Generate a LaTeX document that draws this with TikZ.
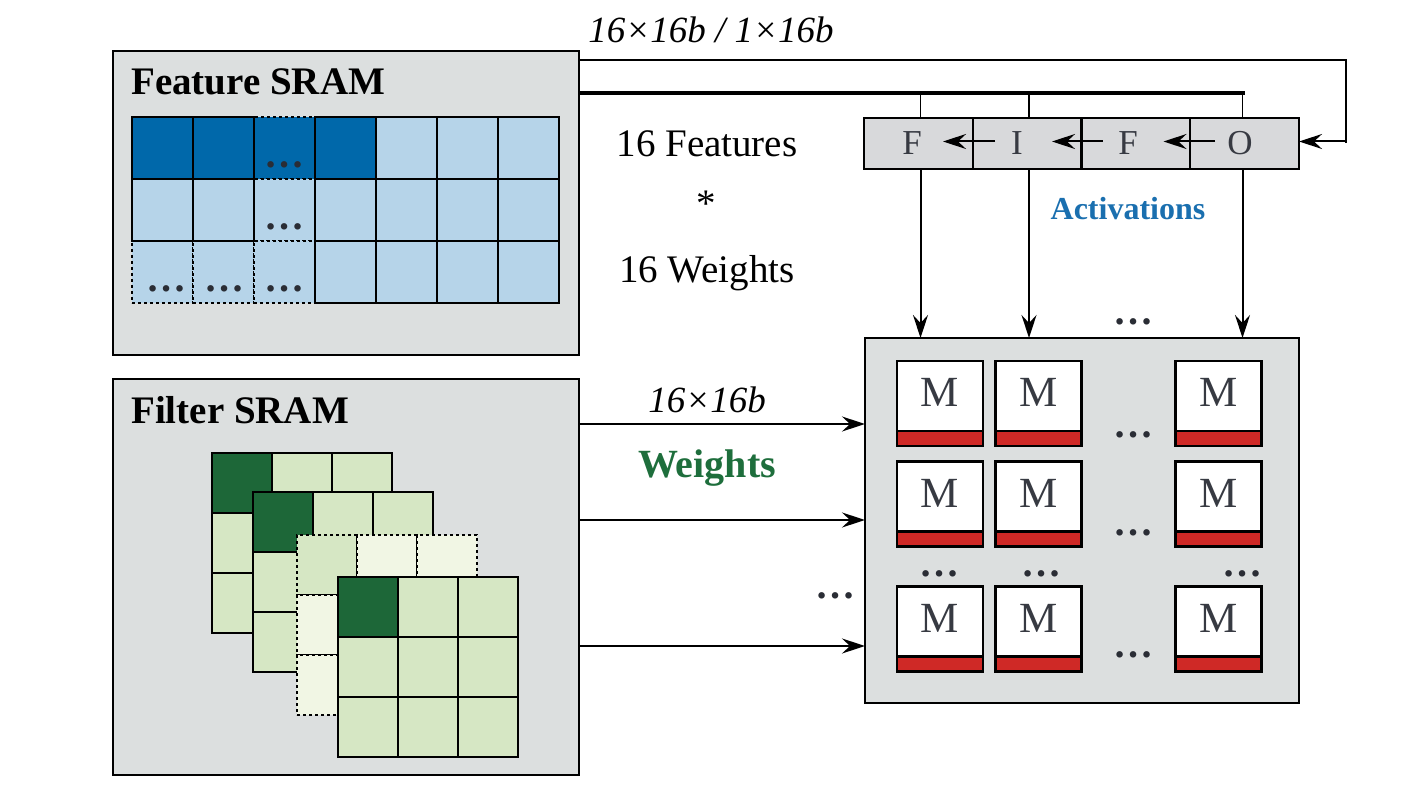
\documentclass[tikz,border=0pt]{standalone}
\usepackage{fontspec}
\setmainfont{Liberation Serif}
\usetikzlibrary{arrows.meta,calc}
\definecolor{boxgrey}{RGB}{220,223,223}
\definecolor{fifogrey}{RGB}{216,217,219}
\definecolor{fdark}{RGB}{0,104,170}
\definecolor{flight}{RGB}{182,212,233}
\definecolor{gdark}{RGB}{29,103,56}
\definecolor{glight}{RGB}{214,231,196}
\definecolor{gpale}{RGB}{241,246,228}
\definecolor{mred}{RGB}{207,41,38}
\definecolor{actblue}{RGB}{26,111,175}
\definecolor{wgreen}{RGB}{30,110,60}
\definecolor{dotgrey}{RGB}{42,45,53}
\definecolor{lettergrey}{RGB}{55,58,66}
\newcommand{\myfs}[1]{\fontsize{#1pt}{#1pt}\selectfont}
\begin{document}
\begin{tikzpicture}[x=1pt,y=-1pt,
  sram/.style={draw=black,line width=2.4pt,fill=boxgrey,inner sep=0pt,outer sep=0pt},
  fcell/.style={draw=black,line width=2.4pt,minimum width=61pt,minimum height=62pt,inner sep=0pt,outer sep=0pt,dash pattern=on 6pt off 4pt},
  gcell/.style={draw=black,line width=2.4pt,minimum width=60pt,minimum height=60pt,inner sep=0pt,outer sep=0pt,dash pattern=on 6pt off 4pt},
  qcell/.style={draw=black,line width=2.4pt,fill=fifogrey,minimum width=109pt,minimum height=51pt,inner sep=0pt,outer sep=0pt},
  qlabel/.style={font=\myfs{35},text=lettergrey,inner sep=0pt},
  mcell/.style={draw=black,line width=2.4pt,fill=white,minimum width=86pt,minimum height=85pt,inner sep=0pt,outer sep=0pt,
    path picture={\fill[mred] (path picture bounding box.south west) rectangle ([yshift=15pt]path picture bounding box.south east);
      \draw[line width=2.4pt] ([yshift=15pt]path picture bounding box.south west) -- ([yshift=15pt]path picture bounding box.south east);},
    label={[font=\myfs{43},text=lettergrey,inner sep=0pt,yshift=11pt]center:M}},
  title/.style={anchor=base west,inner sep=0pt,font=\bfseries\myfs{39},text=black},
  body/.style={anchor=base,inner sep=0pt,font=\myfs{39},text=black},
  ital/.style={anchor=base,inner sep=0pt,font=\itshape\myfs{37},text=black},
  dots/.style={anchor=base,inner sep=0pt,font=\bfseries\myfs{40},text=dotgrey},
  arr/.style={line width=2pt,-{Stealth[length=23pt,width=15pt,inset=8pt]}},
  wire/.style={line width=1.8pt},
  bus/.style={line width=4.5pt}
]
\useasboundingbox (0,0) rectangle (1407,799);

% big boxes
\node[sram,minimum width=466pt,minimum height=304pt] (featbox) at (346,203) {};
\node[sram,minimum width=466pt,minimum height=396pt] (filtbox) at (346,577) {};
\node[sram,minimum width=434pt,minimum height=365pt] (abox) at (1082,520.5) {};

\node[title] (ftitle) at (131,95) {Feature SRAM};
\node[title] (gtitle) at (131,423) {Filter SRAM};

% feature grid
\foreach \i/\j/\cl/\st in {2/0/fdark/dashed,2/1/flight/dashed,0/2/flight/dashed,1/2/flight/dashed,2/2/flight/dashed,
  0/0/fdark/solid,1/0/fdark/solid,3/0/fdark/solid,4/0/flight/solid,5/0/flight/solid,6/0/flight/solid,
  0/1/flight/solid,1/1/flight/solid,3/1/flight/solid,4/1/flight/solid,5/1/flight/solid,6/1/flight/solid,
  3/2/flight/solid,4/2/flight/solid,5/2/flight/solid,6/2/flight/solid}
  \node[fcell,\st,fill=\cl] (f\i\j) at ({132+61*\i+30.5},{117+62*\j+31}) {};
\node[dots] (fd1) at (284,168) {…};
\node[dots] (fd2) at (284,230) {…};
\node[dots] (fd3) at (166,292) {…};
\node[dots] (fd4) at (224,292) {…};
\node[dots] (fd5) at (284,292) {…};

% filter stacks
\foreach \L/\ox/\oy/\st/\bc/\cc in {1/212/453/solid/glight/gdark,2/253/492/solid/glight/gdark,3/297/535/dashed/gpale/glight,4/338/577/solid/glight/gdark}{
  \foreach \i in {0,1,2}{
    \foreach \j in {0,1,2}{
      \ifnum\i\j=0 \def\fc{\cc}\else\def\fc{\bc}\fi
      \node[gcell,\st,fill=\fc] (g\L-\i\j) at ({\ox+60*\i+30},{\oy+60*\j+30}) {};
    }
  }
}

% FIFO
\node[qcell,label={[qlabel,xshift=-6.5pt]center:F}] (q1) at (918.5,143.5) {};
\node[qcell,label={[qlabel,xshift=-10.5pt]center:I}] (q2) at (1027.5,143.5) {};
\node[qcell,label={[qlabel,xshift=-8pt]center:F}] (q3) at (1136,143.5) {};
\node[qcell,label={[qlabel,xshift=-4.5pt]center:O}] (q4) at (1244.5,143.5) {};
\draw[arr] ([xshift=22pt,yshift=2pt]q2.west) -- ([xshift=-30pt,yshift=2pt]q1.east);
\draw[arr] ([xshift=21pt,yshift=2pt]q3.west) -- ([xshift=-30pt,yshift=2pt]q2.east);
\draw[arr] ([xshift=25pt,yshift=2pt]q4.west) -- ([xshift=-27pt,yshift=2pt]q3.east);

% MAC array
\foreach \c/\x in {1/940,2/1038.5,3/1218.5}
  \foreach \r/\y in {1/403.5,2/504,3/629}
    \node[mcell] (m\r\c) at (\x,\y) {};
\node[dots] (ad1) at (1133,437) {…};
\node[dots] (ad2) at (1133,535) {…};
\node[dots] (ad3) at (1133,657) {…};
\node[dots] (ad4) at (939,576) {…};
\node[dots] (ad5) at (1041,576) {…};
\node[dots] (ad6) at (1242,576) {…};
\node[dots] (ad7) at (1133,324) {…};
\node[dots] (ad8) at (835,598) {…};

% connectors
\coordinate (busend) at (1243,93);
\coordinate (topR) at (1346,60);
\draw[wire] (featbox.north east |- topR) -- (topR) -- (topR |- q4.east);
\draw[arr] ([yshift=2pt]topR |- q4.east) -- ([yshift=2pt]q4.east);
\draw[bus] (featbox.north east |- busend) -- ([xshift=2pt]busend);
\draw[wire] ([xshift=2pt]q1.north |- busend) -- ([xshift=2pt]q1.north);
\draw[wire] ([xshift=1.5pt]q2.north |- busend) -- ([xshift=1.5pt]q2.north);
\draw[wire] ([xshift=-2pt]q4.north |- busend) -- ([xshift=-2pt]q4.north);
\draw[arr] ([xshift=2pt]q1.south) -- ([xshift=2pt]q1.south |- abox.north);
\draw[arr] ([xshift=1.5pt]q2.south) -- ([xshift=1.5pt]q2.south |- abox.north);
\draw[arr] ([xshift=-2pt]q4.south) -- ([xshift=-2pt]q4.south |- abox.north);

\coordinate (w1) at (0,424);
\coordinate (w2) at (0,520);
\coordinate (w3) at (0,646);
\draw[arr] (filtbox.east |- w1) -- (abox.west |- w1);
\draw[arr] (filtbox.east |- w2) -- (abox.west |- w2);
\draw[arr] (filtbox.east |- w3) -- (abox.west |- w3);

% labels
\node[ital] (toplab) at (711,43) {16×16b / 1×16b};
\node[body] (nf) at (707,157) {16 Features};
\node[body] (star) at (706,217) {*};
\node[body] (nw) at (707,283) {16 Weights};
\node[anchor=base,inner sep=0pt,font=\bfseries\myfs{32},text=actblue] (act) at (1128,220) {Activations};
\node[ital] (wlab) at (707,412) {16×16b};
\node[anchor=base,inner sep=0pt,font=\bfseries\myfs{40},text=wgreen] (wts) at (707,477) {Weights};
\end{tikzpicture}
\end{document}
